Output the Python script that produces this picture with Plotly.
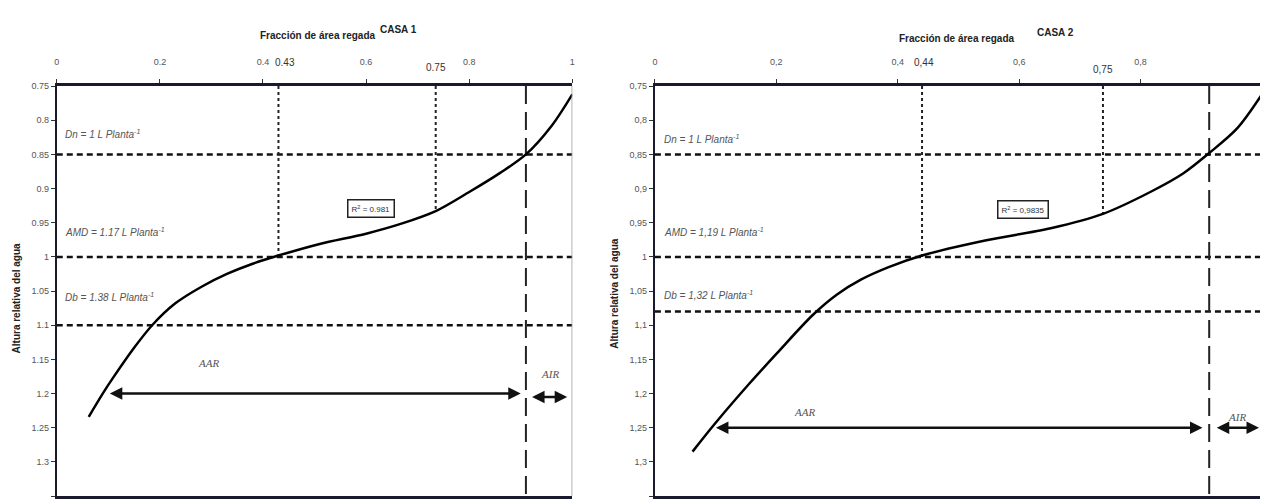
import plotly.graph_objects as go

# ---------------- data ----------------
# CASA 1 curve (fraction of irrigated area vs relative water height)
c1_x = [0.062, 0.09, 0.11, 0.15, 0.185, 0.23, 0.28, 0.33, 0.38, 0.43, 0.51, 0.6, 0.67, 0.735, 0.8, 0.86, 0.91, 0.96, 1.0]
c1_y = [1.234, 1.199, 1.176, 1.133, 1.1, 1.068, 1.044, 1.025, 1.01, 0.998, 0.981, 0.966, 0.951, 0.933, 0.905, 0.877, 0.85, 0.808, 0.762]
# CASA 2 curve
c2_x = [0.062, 0.098, 0.156, 0.2, 0.26, 0.3, 0.34, 0.385, 0.44, 0.544, 0.652, 0.738, 0.816, 0.87, 0.913, 0.959, 1.0]
c2_y = [1.285, 1.245, 1.185, 1.142, 1.085, 1.055, 1.033, 1.015, 0.998, 0.976, 0.958, 0.937, 0.905, 0.878, 0.848, 0.812, 0.762]

# reference levels (Dn, AMD, Db)
c1_levels = [0.85, 1.0, 1.1]
c2_levels = [0.85, 1.0, 1.08]
c1_labels = ["Dn = 1 L Planta<sup>-1</sup>", "AMD = 1.17 L Planta<sup>-1</sup>", "Db = 1.38 L Planta<sup>-1</sup>"]
c2_labels = ["Dn = 1 L Planta<sup>-1</sup>", "AMD = 1,19 L Planta<sup>-1</sup>", "Db = 1,32 L Planta<sup>-1</sup>"]
c1_label_y = [0.82, 0.964, 1.058]
c2_label_y = [0.827, 0.964, 1.056]

# vertical markers: x and where they stop
c1_dot_x = [0.43, 0.735]
c1_dot_yend = [1.0, 0.933]
c2_dot_x = [0.44, 0.738]
c2_dot_yend = [1.0, 0.937]
c1_dot_text = ["0.43", "0.75"]
c2_dot_text = ["0,44", "0,75"]
c1_limit_x = 0.91
c2_limit_x = 0.913

c1_r2 = "R<sup>2</sup> = 0.981"
c2_r2 = "R<sup>2</sup> = 0,9835"

x_ticks = [0, 0.2, 0.4, 0.6, 0.8, 1.0]
x_text1 = ["0", "0.2", "0.4", "0.6", "0.8", "1"]
x_text2 = ["0", "0,2", "0,4", "0,6", "0,8", "1"]
y_ticks = [0.75, 0.8, 0.85, 0.9, 0.95, 1.0, 1.05, 1.1, 1.15, 1.2, 1.25, 1.3, 1.35]
y_text1 = ["0.75", "0.8", "0.85", "0.9", "0.95", "1", "1.05", "1.1", "1.15", "1.2", "1.25", "1.3", "1.35"]
y_text2 = ["0,75", "0,8", "0,85", "0,9", "0,95", "1", "1,05", "1,1", "1,15", "1,2", "1,25", "1,3", "1,35"]

# arrows: AAR (x_left, x_right, y), AIR (x_left, x_right, y)
c1_aar = (0.1, 0.9, 1.2)
c1_air = (0.919, 0.99, 1.205)
c2_aar = (0.098, 0.902, 1.25)
c2_air = (0.923, 0.995, 1.25)

# ---------------- layout helpers ----------------
OFFX, OFFY = 8, 11     # page offset of the plot div
W, H = 1268 - OFFX, 502 - OFFY


def fx(px):
    return (px - OFFX) / W


def fy(py):
    return 1 - (py - OFFY) / H


fig = go.Figure()

panels = [
    dict(xa="x", ya="y", cx=c1_x, cy=c1_y, lv=c1_levels, lbl=c1_labels, lbly=c1_label_y,
         dx=c1_dot_x, dy=c1_dot_yend, dt=c1_dot_text, lim=c1_limit_x, r2=c1_r2, r2pos=(0.61, 0.929),
         aar=c1_aar, air=c1_air, aarlab=(0.295, 1.155), airlab=(0.957, 1.172),
         dom=(fx(54), fx(572)), casa="CASA 1", dshift=[7, 0],
         title=(316, 34), casa_pos=(397, 28), ytitle=(13, 300), dtpy=[61, 66]),
    dict(xa="x2", ya="y2", cx=c2_x, cy=c2_y, lv=c2_levels, lbl=c2_labels, lbly=c2_label_y,
         dx=c2_dot_x, dy=c2_dot_yend, dt=c2_dot_text, lim=c2_limit_x, r2=c2_r2, r2pos=(0.607, 0.931),
         aar=c2_aar, air=c2_air, aarlab=(0.246, 1.227), airlab=(0.959, 1.234),
         dom=(fx(655), fx(1265)), casa="CASA 2", dshift=[2, 0],
         title=(958, 37), casa_pos=(1057, 31), ytitle=(614, 295), dtpy=[61, 68]),
]

ann = []
shapes = []
title_font = dict(family="Liberation Sans Narrow, Liberation Sans", size=10, color="#222222")
for p in panels:
    xa, ya = p["xa"], p["ya"]
    for lv in p["lv"]:
        fig.add_trace(go.Scatter(x=[0, 1], y=[lv, lv], mode="lines", xaxis=xa, yaxis=ya,
                                 line=dict(color="#111111", width=2.5, dash="6px,4px"),
                                 showlegend=False, hoverinfo="skip"))
    for vx, vy in zip(p["dx"], p["dy"]):
        fig.add_trace(go.Scatter(x=[vx, vx], y=[0.75, vy], mode="lines", xaxis=xa, yaxis=ya,
                                 line=dict(color="#222222", width=2, dash="3px,3px"),
                                 showlegend=False, hoverinfo="skip"))
    fig.add_trace(go.Scatter(x=[p["lim"], p["lim"]], y=[0.75, 1.35], mode="lines", xaxis=xa, yaxis=ya,
                             line=dict(color="#222222", width=2, dash="18px,8px"),
                             showlegend=False, hoverinfo="skip"))
    fig.add_trace(go.Scatter(x=p["cx"], y=p["cy"], mode="lines", xaxis=xa, yaxis=ya, line_shape="spline",
                             line=dict(color="black", width=2.5, smoothing=0.9), showlegend=False))

    for t, ly in zip(p["lbl"], p["lbly"]):
        ann.append(dict(x=0.012, y=ly, xref=xa, yref=ya, text="<i>" + t + "</i>", showarrow=False, xanchor="left",
                        font=dict(family="Liberation Sans Narrow, Liberation Sans", size=10, color="#555555")))
    ann.append(dict(x=p["r2pos"][0], y=p["r2pos"][1], xref=xa, yref=ya, text=p["r2"], showarrow=False,
                    xanchor="center", bordercolor="#222222", borderwidth=1.5, borderpad=3, bgcolor="white",
                    font=dict(family="Liberation Sans", size=8, color="#333333")))
    for vx, t, ty, sh in zip(p["dx"], p["dt"], p["dtpy"], p["dshift"]):
        ann.append(dict(x=vx, y=fy(ty), xref=xa, yref="paper", text=t, showarrow=False, xanchor="center",
                        xshift=sh, yanchor="middle", font=dict(family="Liberation Sans", size=10, color="#333333")))
    for seg in (p["aar"], p["air"]):
        xl, xr, yv = seg
        ann.append(dict(x=xr, y=yv, ax=xl, ay=yv, xref=xa, yref=ya, axref=xa, ayref=ya, text="",
                        showarrow=True, arrowhead=2, arrowside="end+start", arrowsize=1, arrowwidth=2.5,
                        arrowcolor="#111111"))
    ann.append(dict(x=p["aarlab"][0], y=p["aarlab"][1], xref=xa, yref=ya, text="<i>AAR</i>", showarrow=False,
                    xanchor="center", font=dict(family="Liberation Serif", size=11, color="#555555")))
    ann.append(dict(x=p["airlab"][0], y=p["airlab"][1], xref=xa, yref=ya, text="<i>AIR</i>", showarrow=False,
                    xanchor="center", font=dict(family="Liberation Serif", size=11, color="#555555")))
    ann.append(dict(x=fx(p["title"][0]), y=fy(p["title"][1]), xref="paper", yref="paper",
                    text="<b>Fracción de área regada</b>", showarrow=False, xanchor="center", yanchor="middle",
                    font=title_font))
    ann.append(dict(x=fx(p["casa_pos"][0]), y=fy(p["casa_pos"][1]), xref="paper", yref="paper",
                    text="<b>" + p["casa"] + "</b>", showarrow=False, xanchor="center", yanchor="middle",
                    font=title_font))
    ann.append(dict(x=fx(p["ytitle"][0]), y=fy(p["ytitle"][1]), xref="paper", yref="paper",
                    text="<b>Altura relativa del agua</b>", showarrow=False, textangle=-90,
                    xanchor="center", yanchor="middle", font=title_font))
    shapes.append(dict(type="line", xref=xa, yref=ya, x0=1, x1=1, y0=0.75, y1=1.35,
                       line=dict(color="#999999", width=1.5)))

axis_common = dict(showgrid=False, zeroline=False, ticks="outside", ticklen=4, tickcolor="#333333",
                   tickfont=dict(family="Liberation Sans", size=9, color="#555555"))
ydom = [fy(500), fy(85)]

fig.update_layout(
    width=W, height=H, margin=dict(l=0, r=0, t=0, b=0),
    paper_bgcolor="white", plot_bgcolor="white",
    annotations=ann, shapes=shapes,
    xaxis=dict(domain=list(panels[0]["dom"]), anchor="y", side="top", range=[0, 1], tickvals=x_ticks,
               ticktext=x_text1, showline=True, linecolor="#1a1a2e", linewidth=2.5, mirror=True,
               ticklabelstandoff=11, **axis_common),
    yaxis=dict(domain=ydom, anchor="x", range=[1.35, 0.75], tickvals=y_ticks, ticktext=y_text1,
               showline=True, linecolor="#1a1a2e", linewidth=2, **axis_common),
    xaxis2=dict(domain=list(panels[1]["dom"]), anchor="y2", side="top", range=[0, 1], tickvals=x_ticks,
                ticktext=x_text2, showline=True, linecolor="#1a1a2e", linewidth=2.5, mirror=True,
                ticklabelstandoff=11, **axis_common),
    yaxis2=dict(domain=ydom, anchor="x2", range=[1.35, 0.75], tickvals=y_ticks, ticktext=y_text2,
                showline=True, linecolor="#1a1a2e", linewidth=2, **axis_common),
)

fig.write_html("out.html")
